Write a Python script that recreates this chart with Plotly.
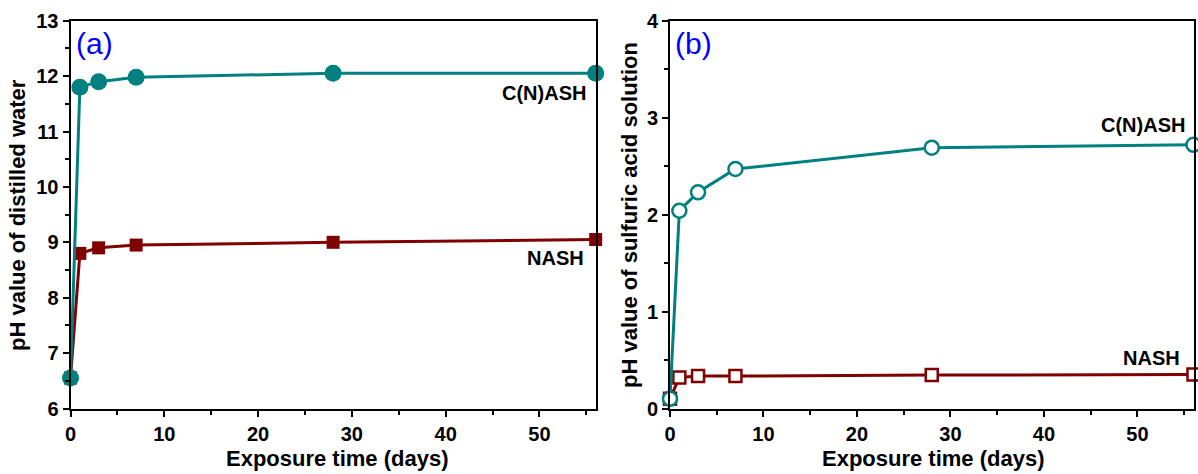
import plotly.graph_objects as go

# ---- data ----
days = [0, 1, 3, 7, 28, 56]
water_cnash = [6.55, 11.80, 11.90, 11.98, 12.05, 12.05]
water_nash = [6.55, 8.80, 8.90, 8.95, 9.00, 9.05]
acid_cnash = [0.10, 2.04, 2.23, 2.47, 2.69, 2.72]
acid_nash = [0.10, 0.32, 0.335, 0.335, 0.345, 0.35]

TEAL = "#008080"
MAROON = "#800000"
W, H = 1198, 474

fig = go.Figure()

# panel (a)
fig.add_trace(go.Scatter(x=days, y=water_nash, mode="lines+markers", name="NASH",
                         line=dict(color=MAROON, width=3),
                         marker=dict(symbol="square", size=13, color=MAROON),
                         cliponaxis=False, xaxis="x", yaxis="y"))
fig.add_trace(go.Scatter(x=days, y=water_cnash, mode="lines+markers", name="C(N)ASH",
                         line=dict(color=TEAL, width=3),
                         marker=dict(symbol="circle", size=17, color=TEAL),
                         cliponaxis=False, xaxis="x", yaxis="y"))
# panel (b)
fig.add_trace(go.Scatter(x=days, y=acid_nash, mode="lines+markers", name="NASH",
                         line=dict(color=MAROON, width=3),
                         marker=dict(symbol="square", size=12, color="white",
                                     line=dict(color=MAROON, width=2.5)),
                         cliponaxis=False, xaxis="x2", yaxis="y2"))
fig.add_trace(go.Scatter(x=days, y=acid_cnash, mode="lines+markers", name="C(N)ASH",
                         line=dict(color=TEAL, width=3),
                         marker=dict(symbol="circle", size=14, color="white",
                                     line=dict(color=TEAL, width=2.5)),
                         cliponaxis=False, xaxis="x2", yaxis="y2"))

tickfont = dict(family="Arial, Liberation Sans", size=20, color="black", weight="bold")
common = dict(showline=True, linecolor="black", linewidth=2, mirror=True,
              ticks="outside", ticklen=6, tickwidth=2, tickcolor="black",
              showgrid=False, zeroline=False, tickfont=tickfont, automargin=False)

def px_x(p):
    return p / W

def px_y(p):
    return 1 - p / H

minor = dict(ticks="outside", ticklen=4, tickwidth=2, tickcolor="black", showgrid=False)
ydom = [px_y(408.5), px_y(20.7)]
fig.update_layout(
    width=W, height=H,
    margin=dict(l=0, r=0, t=0, b=0, autoexpand=False),
    paper_bgcolor="white", plot_bgcolor="white",
    showlegend=False,
    xaxis=dict(domain=[px_x(70.5), px_x(595.7)], range=[0, 56], dtick=10,
               minor=dict(dtick=5, **minor), anchor="y", **common),
    yaxis=dict(domain=ydom, range=[6, 13], dtick=1,
               minor=dict(dtick=0.5, **minor), anchor="x", **common),
    xaxis2=dict(domain=[px_x(670), px_x(1193.5)], range=[0, 56], dtick=10,
                minor=dict(dtick=5, **minor), anchor="y2", **common),
    yaxis2=dict(domain=ydom, range=[0, 4], dtick=1,
                minor=dict(dtick=0.5, **minor), anchor="x2", **common),
)

titlefont = dict(family="Arial, Liberation Sans", size=22, color="black", weight="bold")
labfont = dict(family="Arial, Liberation Sans", size=20, color="black", weight="bold")
annots = [
    # axis titles
    dict(text="Exposure time (days)", x=px_x(337), y=px_y(458), font=titlefont),
    dict(text="Exposure time (days)", x=px_x(933), y=px_y(458), font=titlefont),
    dict(text="pH value of distilled water", x=px_x(17), y=px_y(215), textangle=-90, font=titlefont),
    dict(text="pH value of sulfuric acid solution", x=px_x(629), y=px_y(215), textangle=-90, font=titlefont),
    # panel labels
    dict(text="(a)", x=px_x(74), y=px_y(43), xanchor="left",
         font=dict(family="Arial, Liberation Sans", size=30, color="#0000ff")),
    dict(text="(b)", x=px_x(673), y=px_y(43), xanchor="left",
         font=dict(family="Arial, Liberation Sans", size=30, color="#0000ff")),
    # series labels
    dict(text="C(N)ASH", x=px_x(588), y=px_y(93), xanchor="right", font=labfont),
    dict(text="NASH", x=px_x(586), y=px_y(258), xanchor="right", font=labfont),
    dict(text="C(N)ASH", x=px_x(1187), y=px_y(125), xanchor="right", font=labfont),
    dict(text="NASH", x=px_x(1182), y=px_y(358), xanchor="right", font=labfont),
]
for a in annots:
    a.setdefault("xanchor", "center")
    a.update(xref="paper", yref="paper", yanchor="middle", showarrow=False)
    fig.add_annotation(**a)

fig.write_html("out.html", config={"displayModeBar": False},
               post_script="document.body.style.margin='0';document.body.style.overflow='hidden';")
